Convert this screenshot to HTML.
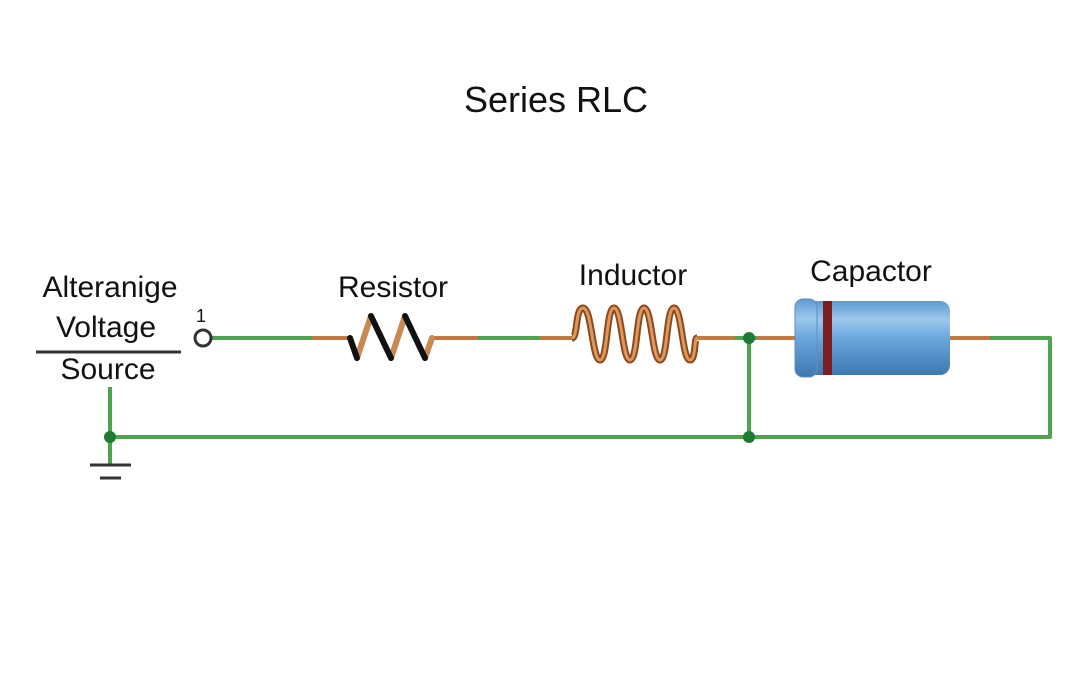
<!DOCTYPE html>
<html><head><meta charset="utf-8"><style>
html,body{margin:0;padding:0;background:#fff;}
svg{display:block}
text{font-family:"Liberation Sans",sans-serif;fill:#111}
</style></head><body>
<svg width="1080" height="675" viewBox="0 0 1080 675" xmlns="http://www.w3.org/2000/svg">
<defs>
<linearGradient id="cap" x1="0" y1="0" x2="0" y2="1">
<stop offset="0" stop-color="#5d9ad0"/><stop offset="0.25" stop-color="#9cc8ec"/><stop offset="0.5" stop-color="#6aa7dc"/><stop offset="1" stop-color="#3d78b0"/>
</linearGradient>
</defs>
<text x="556" y="112" font-size="36" text-anchor="middle">Series RLC</text>
<text x="110" y="297" font-size="30" text-anchor="middle">Alteranige</text>
<text x="106" y="337" font-size="30" text-anchor="middle">Voltage</text>
<line x1="36" y1="352" x2="181" y2="352" stroke="#333" stroke-width="3"/>
<text x="108" y="379" font-size="30" text-anchor="middle">Source</text>
<text x="201" y="322" font-size="18" text-anchor="middle">1</text>
<text x="393" y="297" font-size="30" text-anchor="middle">Resistor</text>
<text x="633" y="285" font-size="30" text-anchor="middle">Inductor</text>
<text x="871" y="281" font-size="30" text-anchor="middle">Capactor</text>

<g stroke="#4ea34e" stroke-width="4" fill="none" stroke-linejoin="round">
<line x1="211" y1="338" x2="312" y2="338"/>
<line x1="478" y1="338" x2="540" y2="338"/>
<line x1="735" y1="338" x2="757" y2="338"/>
<polyline points="990,338 1050,338 1050,437 110,437"/>
<line x1="749" y1="338" x2="749" y2="437"/>
<line x1="110" y1="387" x2="110" y2="465"/>
</g>
<g stroke="#c07a40" stroke-width="4" fill="none">
<line x1="312" y1="338" x2="350" y2="338"/>
<line x1="430" y1="338" x2="478" y2="338"/>
<line x1="540" y1="338" x2="574" y2="338"/>
<line x1="695" y1="338" x2="735" y2="338"/>
<line x1="757" y1="338" x2="795" y2="338"/>
<line x1="950" y1="338" x2="990" y2="338"/>
</g>
<g stroke-width="6" fill="none" stroke-linecap="round">
<polyline stroke="#c98a52" points="357,358 371,316"/>
<polyline stroke="#c98a52" points="391,358 405,316"/>
<polyline stroke="#c98a52" points="425,358 432,338"/>
<polyline stroke="#111" points="350,338 357,358"/>
<polyline stroke="#111" points="371,316 391,358"/>
<polyline stroke="#111" points="405,316 425,358"/>
</g>
<g fill="none">
<path id="coil" d="M572,338 C578,338 575,308 583,308 C592,308 592,360 600,360 C608,360 606,308 614,308 C622,308 622,360 630,360 C638,360 636,308 644,308 C652,308 652,360 660,360 C668,360 666,308 674,308 C682,308 682,360 690,360 C696,360 694,338 697,338" stroke="#8a4a1a" stroke-width="7"/>
<path d="M572,338 C578,338 575,308 583,308 C592,308 592,360 600,360 C608,360 606,308 614,308 C622,308 622,360 630,360 C638,360 636,308 644,308 C652,308 652,360 660,360 C668,360 666,308 674,308 C682,308 682,360 690,360 C696,360 694,338 697,338" stroke="#dc9860" stroke-width="3"/>
</g>
<rect x="795" y="301" width="155" height="74" rx="10" fill="url(#cap)"/>
<rect x="795" y="299" width="22" height="78" rx="8" fill="url(#cap)" stroke="#5a90c0" stroke-width="1"/>
<rect x="823" y="301" width="9" height="74" fill="#7a1e22"/>
<circle cx="203" cy="338" r="8" fill="#fff" stroke="#333" stroke-width="3"/>
<circle cx="749" cy="338" r="6" fill="#1f7a32"/>
<circle cx="749" cy="437" r="6" fill="#1f7a32"/>
<circle cx="110" cy="437" r="6" fill="#1f7a32"/>
<line x1="90" y1="465" x2="131" y2="465" stroke="#333" stroke-width="3"/>
<line x1="100" y1="478" x2="121" y2="478" stroke="#333" stroke-width="3"/>
</svg>
</body></html>
